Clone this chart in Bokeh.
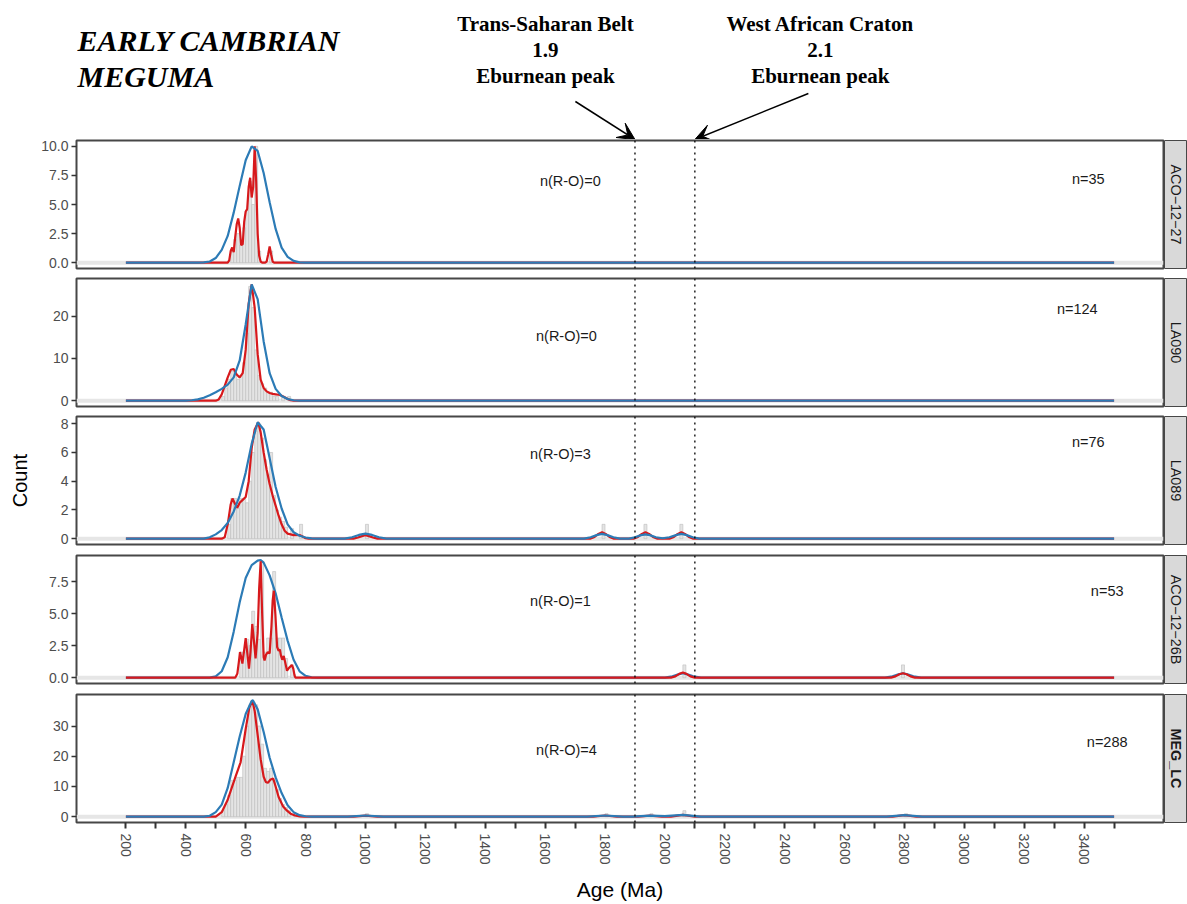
import math
from bokeh.plotting import figure
from bokeh.layouts import column, row
from bokeh.models import Range1d, FixedTicker, Span, Arrow, VeeHead, Label
from bokeh.core.properties import value
from bokeh.embed import file_html
from bokeh.resources import INLINE

# ------------------------------------------------------------------ data
sample_names = ["ACO\u221212\u221227", "LA090", "LA089", "ACO\u221212\u221226B", "MEG_LC"]
n_total_labels = ["n=35", "n=124", "n=76", "n=53", "n=288"]
n_ro_labels = ["n(R-O)=0", "n(R-O)=0", "n(R-O)=3", "n(R-O)=1", "n(R-O)=4"]
y_ticks = [[0, 2.5, 5, 7.5, 10], [0, 10, 20], [0, 2, 4, 6, 8], [0, 2.5, 5, 7.5], [0, 10, 20, 30]]
y_tick_labels = [["0.0", "2.5", "5.0", "7.5", "10.0"], ["0", "10", "20"], ["0", "2", "4", "6", "8"],
                 ["0.0", "2.5", "5.0", "7.5"], ["0", "10", "20", "30"]]
y_max = [10.0, 27.5, 8.1, 9.1, 38.5]
x_ticks = list(range(200, 3501, 100))
x_tick_labels = ["200", "", "400", "", "600", "", "800", "", "1000", "", "1200", "", "1400", "",
                 "1600", "", "1800", "", "2000", "", "2200", "", "2400", "", "2600", "", "2800", "",
                 "3000", "", "3200", "", "3400", ""]
peak_ages = [1900, 2100]

# red curves (age, count)
red1 = [(200, 0), (540, 0), (545, 0.2), (550, 1.0), (555, 1.3), (560, 0.9), (565, 2.2), (570, 3.3),
        (575, 3.8), (580, 3.0), (585, 1.5), (590, 1.6), (595, 3.5), (600, 4.4), (605, 4.6), (610, 6.5),
        (615, 7.3), (620, 5.6), (625, 6.5), (630, 10.0), (635, 7.0), (640, 2.5), (645, 0.6), (650, 0.1),
        (655, 0), (665, 0), (670, 0.1), (675, 0.7), (680, 1.4), (685, 0.7), (690, 0.1), (695, 0), (3500, 0)]
red2 = [(200, 0), (500, 0), (510, 0.3), (520, 1.5), (530, 3.5), (540, 5.5), (550, 7.3), (560, 7.5),
        (570, 6.2), (580, 5.5), (590, 6.5), (600, 12.0), (610, 23.0), (620, 27.5), (630, 22.0), (640, 11.0),
        (650, 5.0), (660, 3.0), (670, 2.2), (680, 1.8), (690, 1.6), (700, 1.5), (710, 1.4), (720, 1.2),
        (730, 0.8), (740, 0.4), (750, 0.1), (760, 0), (3500, 0)]
red3 = [(200, 0), (520, 0), (530, 0.1), (540, 1.0), (550, 2.4), (556, 2.8), (565, 2.4), (572, 2.15),
        (580, 2.5), (590, 2.7), (600, 2.9), (610, 4.0), (620, 6.3), (630, 7.6), (642, 8.1), (650, 7.4),
        (660, 6.0), (670, 4.8), (680, 3.8), (690, 3.0), (700, 2.3), (710, 1.6), (720, 1.0), (730, 0.55),
        (740, 0.35), (760, 0.25), (780, 0.25), (790, 0.15), (800, 0.03), (810, 0),
        (960, 0), (975, 0.08), (988, 0.18), (1000, 0.25), (1012, 0.18), (1025, 0.08), (1040, 0),
        (1750, 0), (1765, 0.12), (1778, 0.33), (1790, 0.45), (1802, 0.33), (1815, 0.12), (1830, 0),
        (1895, 0), (1910, 0.12), (1923, 0.33), (1935, 0.45), (1947, 0.33), (1960, 0.12), (1975, 0),
        (2015, 0), (2030, 0.12), (2043, 0.33), (2055, 0.45), (2067, 0.33), (2080, 0.12), (2095, 0),
        (3500, 0)]
red4 = [(200, 0), (565, 0), (572, 0.3), (577, 1.2), (581, 2.0), (585, 1.6), (589, 1.1), (594, 2.0),
        (600, 3.1), (605, 2.0), (611, 0.7), (616, 2.0), (622, 4.2), (627, 3.0), (633, 1.5), (640, 3.5),
        (645, 7.0), (650, 9.1), (655, 5.0), (660, 1.6), (663, 1.35), (668, 1.8), (674, 2.0), (680, 1.9),
        (686, 4.0), (690, 6.0), (694, 6.8), (699, 5.0), (705, 2.4), (710, 2.1), (714, 2.2), (718, 1.7),
        (722, 1.4), (727, 1.7), (731, 1.3), (738, 0.55), (746, 0.8), (754, 1.0), (759, 0.7), (763, 0.2),
        (766, 0),
        (2020, 0), (2035, 0.1), (2048, 0.3), (2060, 0.4), (2072, 0.3), (2085, 0.1), (2100, 0),
        (2755, 0), (2770, 0.1), (2783, 0.27), (2795, 0.35), (2807, 0.27), (2820, 0.1), (2835, 0),
        (3500, 0)]
red5 = [(200, 0), (500, 0), (520, 1.5), (540, 5.6), (555, 10.0), (567, 13.5), (583, 18.0), (600, 29.0),
        (612, 36.0), (622, 38.5), (630, 35.0), (639, 27.8), (650, 19.0), (660, 13.2), (667, 11.5),
        (674, 11.2), (683, 12.3), (692, 12.6), (700, 10.0), (710, 6.5), (725, 3.4), (738, 2.0), (750, 1.0),
        (765, 0.4), (780, 0.1), (795, 0),
        (960, 0), (1000, 0.35), (1040, 0),
        (1760, 0), (1800, 0.4), (1840, 0),
        (1910, 0), (1950, 0.35), (1990, 0),
        (2020, 0), (2060, 0.6), (2100, 0),
        (2760, 0), (2800, 0.5), (2840, 0),
        (3500, 0)]

# blue curves (age, count)
blue1 = [(200, 0), (440, 0), (460, 0.03), (480, 0.1), (500, 0.4), (520, 1.1), (540, 2.3), (560, 4.3),
         (580, 6.6), (600, 8.8), (620, 10.0), (640, 9.6), (660, 7.7), (680, 5.2), (700, 2.9), (720, 1.3),
         (740, 0.5), (760, 0.15), (780, 0.03), (800, 0), (3500, 0)]
blue2 = [(200, 0), (400, 0), (420, 0.1), (440, 0.3), (460, 0.7), (480, 1.3), (500, 2.0), (520, 2.8),
         (540, 3.8), (560, 5.5), (580, 9.5), (600, 18.0), (620, 27.5), (640, 24.0), (660, 14.0),
         (680, 6.5), (700, 2.8), (720, 1.1), (740, 0.4), (760, 0.1), (780, 0), (3500, 0)]
blue3 = [(200, 0), (460, 0), (480, 0.1), (500, 0.3), (520, 0.6), (540, 1.1), (560, 1.9), (580, 3.0),
         (600, 4.6), (620, 6.6), (640, 8.1), (660, 7.6), (680, 5.6), (700, 3.6), (720, 2.1), (740, 1.0),
         (760, 0.45), (780, 0.2), (800, 0.08), (820, 0.02), (840, 0),
         (930, 0), (955, 0.1), (978, 0.26), (1000, 0.35), (1022, 0.26), (1045, 0.1), (1070, 0),
         (1730, 0), (1752, 0.1), (1772, 0.25), (1790, 0.33), (1808, 0.25), (1828, 0.1), (1850, 0),
         (1880, 0), (1900, 0.1), (1918, 0.23), (1935, 0.3), (1952, 0.23), (1970, 0.1), (1992, 0.03),
         (2015, 0.1), (2037, 0.25), (2055, 0.33), (2073, 0.25), (2093, 0.1), (2115, 0),
         (3500, 0)]
blue4 = [(200, 0), (480, 0), (500, 0.1), (520, 0.5), (540, 1.6), (560, 3.6), (580, 5.9), (600, 7.8),
         (620, 8.8), (640, 9.15), (650, 9.2), (660, 9.0), (680, 8.0), (700, 6.6), (720, 4.7), (740, 2.9),
         (760, 1.4), (780, 0.5), (800, 0.15), (820, 0.03), (840, 0),
         (2000, 0), (2025, 0.1), (2045, 0.26), (2060, 0.35), (2075, 0.26), (2095, 0.1), (2120, 0),
         (2735, 0), (2760, 0.1), (2780, 0.26), (2795, 0.35), (2810, 0.26), (2830, 0.1), (2855, 0),
         (3500, 0)]
blue5 = [(200, 0), (460, 0), (480, 0.3), (500, 1.5), (520, 4.0), (540, 9.5), (560, 18.0), (580, 26.5),
         (600, 34.0), (620, 38.3), (624, 38.5), (640, 35.5), (660, 28.0), (680, 19.5), (700, 13.0),
         (720, 7.8), (740, 3.8), (760, 1.5), (780, 0.5), (800, 0.15), (820, 0),
         (940, 0), (1000, 0.4), (1060, 0),
         (1740, 0), (1800, 0.4), (1860, 0),
         (1890, 0), (1950, 0.35), (2000, 0.2), (2060, 0.6), (2120, 0),
         (2740, 0), (2800, 0.5), (2860, 0),
         (3500, 0)]

# histogram (bin centre age, count)
hist1 = [(555, 1.0), (565, 2.0), (575, 2.5), (585, 1.5), (595, 3.0), (605, 4.5), (615, 7.0), (625, 5.0),
         (635, 10.0), (645, 1.0), (685, 1.0)]
hist2 = [(525, 1.0), (535, 3.0), (545, 5.0), (555, 7.0), (565, 6.0), (575, 5.0), (585, 6.0), (595, 9.0),
         (605, 16.0), (615, 27.0), (625, 22.0), (635, 12.0), (645, 6.0), (655, 4.0), (665, 3.0),
         (675, 2.0), (685, 2.0), (695, 1.0), (705, 1.0), (725, 1.0), (745, 1.0)]
hist3 = [(545, 1.0), (555, 2.8), (565, 2.8), (575, 2.1), (585, 2.8), (595, 2.8), (605, 2.5), (615, 4.0),
         (625, 6.0), (635, 7.5), (645, 8.0), (655, 7.0), (665, 5.5), (675, 4.5), (685, 6.0), (695, 3.0),
         (705, 2.0), (715, 1.5), (725, 1.2), (735, 0.8), (755, 0.7), (785, 1.0),
         (1005, 1.0), (1795, 1.0), (1935, 1.0), (2055, 1.0)]
hist4 = [(585, 2.0), (595, 2.0), (605, 3.0), (615, 2.5), (625, 5.2), (635, 4.0), (645, 3.0), (655, 9.1),
         (665, 2.0), (675, 3.1), (685, 3.1), (695, 8.3), (705, 3.1), (715, 3.1), (725, 3.1), (735, 1.5),
         (755, 1.0), (2065, 1.0), (2795, 1.0)]
hist5 = [(525, 2.0), (535, 4.0), (545, 7.0), (555, 12.0), (565, 12.0), (575, 13.0), (585, 13.0),
         (595, 20.0), (605, 30.0), (615, 37.0), (625, 38.0), (635, 37.0), (645, 30.0), (655, 24.0),
         (665, 16.0), (675, 15.0), (685, 16.0), (695, 12.0), (705, 9.0), (715, 6.0), (725, 4.0),
         (735, 3.0), (745, 2.0), (765, 1.0), (1005, 1.0), (1805, 1.0), (1955, 1.0), (2065, 2.0),
         (2805, 1.0)]

red_curves = [red1, red2, red3, red4, red5]
blue_curves = [blue1, blue2, blue3, blue4, blue5]
hists = [hist1, hist2, hist3, hist4, hist5]

# label placement (age, fraction of panel max)
ro_label_pos = [(1684, 0.70), (1671, 0.56), (1651, 0.73), (1651, 0.655), (1671, 0.577)]
n_label_pos = [(3414, 0.715), (3377, 0.784), (3414, 0.835), (3477, 0.749), (3477, 0.646)]

# ------------------------------------------------------------------ style
RED = "#d7191c"
BLUE = "#2c7bb6"
BORDER = "#474747"
TICK_TXT = "#4d4d4d"
SANS = "Liberation Sans"
SERIF = "Liberation Serif"

FRAME_L = 76
FRAME_W = 1087
FRAME_H = 128
STRIP_W = 23
PANEL_BOTTOM = 4
GAPS = [5, 5, 6, 6]
HEADER_H = 139
X0, X1 = 35, 3665


def unzip(pairs):
    return [a for a, _ in pairs], [b for _, b in pairs]


x_range = Range1d(X0, X1)

# ------------------------------------------------------------------ header
header = figure(frame_width=FRAME_W, frame_height=HEADER_H, x_range=x_range,
                y_range=Range1d(0, HEADER_H), min_border_left=FRAME_L, min_border_right=1 + STRIP_W,
                min_border_top=0, min_border_bottom=0, toolbar_location=None,
                x_axis_type=None, y_axis_type=None, output_backend="svg")
header.outline_line_color = None
header.xgrid.visible = False
header.ygrid.visible = False

title_lines = ["EARLY CAMBRIAN", "MEGUMA"]
for txt, yy in zip(title_lines, [99, 63]):
    header.add_layout(Label(x=X0, y=yy, x_offset=1, text=txt, text_font=SERIF,
                            text_font_style="bold italic", text_font_size="30px",
                            text_color="black", text_align="left", text_baseline="middle"))

left_note = ["Trans-Saharan Belt", "1.9", "Eburnean peak"]
right_note = ["West African Craton", "2.1", "Eburnean peak"]
note_y = [116, 90, 64]
header.text(x=[1601] * 3, y=note_y, text=left_note, text_font=value(SERIF), text_font_style="bold",
            text_font_size=value("21px"), text_color="black", text_align="center",
            text_baseline="middle")
header.text(x=[2519] * 3, y=note_y, text=right_note, text_font=value(SERIF), text_font_style="bold",
            text_font_size=value("21px"), text_color="black", text_align="center",
            text_baseline="middle")
header.add_layout(Arrow(end=VeeHead(size=17, fill_color="black", line_color="black"),
                        x_start=1701, y_start=38, x_end=peak_ages[0], y_end=0,
                        line_color="black", line_width=1.5))
header.add_layout(Arrow(end=VeeHead(size=17, fill_color="black", line_color="black"),
                        x_start=2479, y_start=46, x_end=peak_ages[1], y_end=0,
                        line_color="black", line_width=1.5))


def add_peak_lines(fig):
    for a in peak_ages:
        fig.add_layout(Span(location=a, dimension="height", line_color="black",
                            line_dash="2 4", line_width=1.3))


children = [header]
for i in range(5):
    last = i == 4
    ym = y_max[i]
    p = figure(frame_width=FRAME_W, frame_height=FRAME_H, x_range=x_range,
               y_range=Range1d(-0.05 * ym, 1.05 * ym),
               min_border_left=FRAME_L, min_border_right=1, min_border_top=1,
               min_border_bottom=(PANEL_BOTTOM if not last else 2),
               toolbar_location=None, output_backend="svg")
    p.outline_line_color = BORDER
    p.outline_line_width = 2
    p.xgrid.visible = False
    p.ygrid.visible = False
    p.background_fill_color = "white"

    # y axis
    ya = p.yaxis[0]
    ya.ticker = FixedTicker(ticks=y_ticks[i])
    ya.major_label_overrides = {t: lab for t, lab in zip(y_ticks[i], y_tick_labels[i])}
    ya.axis_line_color = None
    ya.major_tick_line_color = "#333333"
    ya.major_tick_line_width = 1.5
    ya.major_tick_out = 5
    ya.major_tick_in = 0
    ya.minor_tick_line_color = None
    ya.major_label_text_color = TICK_TXT
    ya.major_label_text_font = SANS
    ya.major_label_text_font_size = "14px"
    ya.major_label_standoff = 3
    if i == 2:
        ya.axis_label = "Count"
        ya.axis_label_text_font = SANS
        ya.axis_label_text_font_size = "20px"
        ya.axis_label_text_font_style = "normal"
        ya.axis_label_text_color = "black"
        ya.axis_label_standoff = 27

    # x axis
    xa = p.xaxis[0]
    if last:
        xa.ticker = FixedTicker(ticks=x_ticks)
        xa.major_label_overrides = {t: lab for t, lab in zip(x_ticks, x_tick_labels)}
        xa.major_label_orientation = "vertical"
        xa.axis_line_color = None
        xa.major_tick_line_color = "#333333"
        xa.major_tick_line_width = 2
        xa.major_tick_out = 6
        xa.major_tick_in = 0
        xa.minor_tick_line_color = None
        xa.major_label_text_color = TICK_TXT
        xa.major_label_text_font = SANS
        xa.major_label_text_font_size = "14px"
        xa.major_label_standoff = 5
        xa.axis_label = "Age (Ma)"
        xa.axis_label_text_font = SANS
        xa.axis_label_text_font_size = "21px"
        xa.axis_label_text_font_style = "normal"
        xa.axis_label_text_color = "black"
        xa.axis_label_standoff = 10
    else:
        xa.visible = False

    # light baseline band
    p.add_layout(Span(location=0, dimension="width", line_color="#e6e6e6", line_width=4,
                      level="underlay"))

    hx, hy = unzip(hists[i])
    p.vbar(x=hx, top=hy, width=10, bottom=0, fill_color="#e4e4e4", line_color="#bcbcbc",
           line_width=0.6)
    add_peak_lines(p)

    rx, ry = unzip(red_curves[i])
    bx, by = unzip(blue_curves[i])
    if i == 3:
        p.line(bx, by, line_color=BLUE, line_width=2.2)
        p.line(rx, ry, line_color=RED, line_width=2.2)
    else:
        p.line(rx, ry, line_color=RED, line_width=2.2)
        p.line(bx, by, line_color=BLUE, line_width=2.2)

    p.text(x=[ro_label_pos[i][0]], y=[ro_label_pos[i][1] * ym], text=[n_ro_labels[i]],
           text_font=value(SANS), text_font_size=value("14.5px"), text_color="#1a1a1a",
           text_align="center", text_baseline="middle")
    p.text(x=[n_label_pos[i][0]], y=[n_label_pos[i][1] * ym], text=[n_total_labels[i]],
           text_font=value(SANS), text_font_size=value("14.5px"), text_color="#1a1a1a",
           text_align="center", text_baseline="middle")

    # facet strip
    s = figure(frame_width=STRIP_W, frame_height=FRAME_H, x_range=Range1d(0, 1), y_range=Range1d(0, 1),
               min_border_left=0, min_border_right=0, min_border_top=1,
               min_border_bottom=(PANEL_BOTTOM if not last else 2),
               toolbar_location=None, x_axis_type=None, y_axis_type=None, output_backend="svg")
    s.background_fill_color = "#d9d9d9"
    s.border_fill_color = "white"
    s.outline_line_color = BORDER
    s.outline_line_width = 1
    s.xgrid.visible = False
    s.ygrid.visible = False
    s.text(x=[0.5], y=[0.5], text=[sample_names[i]], angle=-math.pi / 2,
           text_font=value(SANS), text_font_size=value("14.4px"),
           text_font_style=("bold" if last else "normal"), text_color="#1a1a1a",
           text_align="center", text_baseline="middle")

    children.append(row(p, s, spacing=0))

    if not last:
        g = figure(frame_width=FRAME_W, frame_height=GAPS[i], x_range=x_range, y_range=Range1d(0, 1),
                   min_border_left=FRAME_L, min_border_right=1 + STRIP_W, min_border_top=0,
                   min_border_bottom=0, toolbar_location=None, x_axis_type=None, y_axis_type=None,
                   output_backend="svg")
        g.outline_line_color = None
        g.xgrid.visible = False
        g.ygrid.visible = False
        add_peak_lines(g)
        children.append(g)

layout = column(*children, spacing=0)
open("out.html", "w").write(file_html(layout, INLINE))
